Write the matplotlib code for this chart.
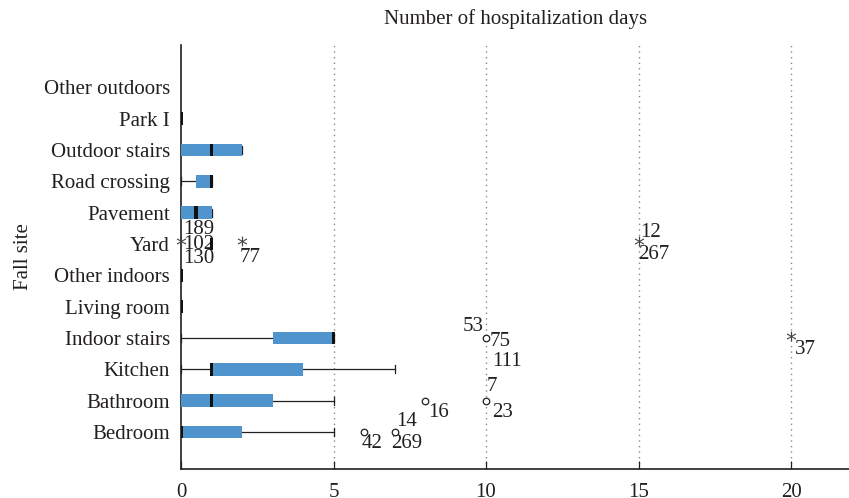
import numpy as np
import matplotlib.pyplot as plt

# fall sites, bottom to top
sites = ['Bedroom', 'Bathroom', 'Kitchen', 'Indoor stairs', 'Living room',
         'Other indoors', 'Yard', 'Pavement', 'Road crossing', 'Outdoor stairs',
         'Park I', 'Other outdoors']
w_lo = [0, 0, 0, 0, 0, 0, 1, 0, 0, 0, 0, np.nan]
q1 = [0, 0, 1, 3, 0, 0, 1, 0, 0.5, 0, 0, np.nan]
med = [0, 1, 1, 5, 0, 0, 1, 0.5, 1, 1, 0, np.nan]
q3 = [2, 3, 4, 5, 0, 0, 1, 1, 1, 2, 0, np.nan]
w_hi = [5, 5, 7, 5, 0, 0, 1, 1, 1, 2, 0, np.nan]

# outliers (circles) and extremes (stars)
circ_site = ['Bedroom', 'Bedroom', 'Bathroom', 'Bathroom', 'Indoor stairs']
circ_val = [6, 7, 8, 10, 10]
star_site = ['Yard', 'Yard', 'Yard', 'Indoor stairs']
star_val = [0, 2, 15, 20]

# case numbers: site, value, text, offset in px (dx, dy)
lab_site = ['Bedroom', 'Bedroom', 'Bedroom', 'Bathroom', 'Bathroom', 'Bathroom',
            'Indoor stairs', 'Indoor stairs', 'Indoor stairs', 'Indoor stairs',
            'Yard', 'Yard', 'Yard', 'Yard', 'Yard', 'Yard']
lab_val = [6, 7, 7, 8, 10, 10, 10, 10, 10, 20, 0, 0, 0, 2, 15, 15]
lab_txt = ['42', '269', '14', '16', '7', '23', '53', '75', '111', '37',
           '189', '102', '130', '77', '12', '267']
lab_dx = [-2, -3, 2, 3, 1, 6, -23, 4, 6, 4, 2, 2, 2, -2, 2, 0]
lab_dy = [-11, -11, 11, -12, 14, -12, 12, -3, -23, -11, 14, -1, -15, -14, 11, -11]

BLUE = '#4f94cd'
INK = '#231f20'
FS = 15
plt.rcParams['font.family'] = ['Liberation Serif', 'DejaVu Serif']

fig = plt.figure(figsize=(8.49, 4.98), dpi=100)
ax = fig.add_axes([0.2132, 0.058, 0.7868, 0.852])

pos = {s: i for i, s in enumerate(sites)}
y = np.arange(len(sites))
h = 0.4
cap = 0.26

for i in range(len(sites)):
    if np.isnan(med[i]):
        continue
    if w_lo[i] < q1[i]:
        ax.plot([w_lo[i], q1[i]], [i, i], color=INK, lw=0.9, zorder=2)
        ax.plot([w_lo[i], w_lo[i]], [i - cap / 2, i + cap / 2], color=INK, lw=0.9, zorder=2)
    if w_hi[i] > q3[i]:
        ax.plot([q3[i], w_hi[i]], [i, i], color=INK, lw=0.9, zorder=2)
    if w_hi[i] > w_lo[i]:
        ax.plot([w_hi[i], w_hi[i]], [i - cap / 2, i + cap / 2], color=INK, lw=0.9, zorder=2)
    if q3[i] > q1[i]:
        ax.barh(i, q3[i] - q1[i], left=q1[i], height=h, color=BLUE, zorder=3)
    ax.barh(i, 0.13, left=med[i] - 0.065, height=h, color='#111111', zorder=4)

ax.scatter(circ_val, [pos[s] for s in circ_site], s=22, facecolors='white',
           edgecolors=INK, linewidths=0.9, zorder=5, clip_on=False)
ax.scatter(star_val, [pos[s] + 0.08 for s in star_site], s=50, marker='$*$',
           color='#444444', linewidths=0, zorder=5, clip_on=False)

for s, v, t, dx, dy in zip(lab_site, lab_val, lab_txt, lab_dx, lab_dy):
    ax.annotate(t, (v, pos[s]), xytext=(dx * 0.72, dy * 0.72), textcoords='offset points',
                ha='left', va='center', fontsize=FS, color=INK, annotation_clip=False)

ax.set_xlim(0, 21.9)
ax.set_ylim(-1.18, 12.35)
ax.set_yticks(y)
ax.set_yticklabels(sites, fontsize=FS, color=INK)
ax.tick_params(axis='y', length=0, pad=8)
ax.set_xticks([0, 5, 10, 15, 20])
ax.tick_params(axis='x', direction='in', length=6, width=0.9, labelsize=FS,
               colors=INK, pad=10)
for xv in [5, 10, 15, 20]:
    ax.axvline(xv, color='#888888', lw=1, ls=(0, (1, 3)), zorder=1)

for sp in ['top', 'right']:
    ax.spines[sp].set_visible(False)
for sp in ['left', 'bottom']:
    ax.spines[sp].set_color(INK)
    ax.spines[sp].set_linewidth(1.2)

ax.set_ylabel('Fall site', fontsize=FS, color=INK)
ax.yaxis.set_label_coords(-0.222, 0.5)
fig.text(0.607, 0.962, 'Number of hospitalization days', ha='center', va='center',
         fontsize=FS, color=INK)

fig.savefig('out.png', dpi=100)
